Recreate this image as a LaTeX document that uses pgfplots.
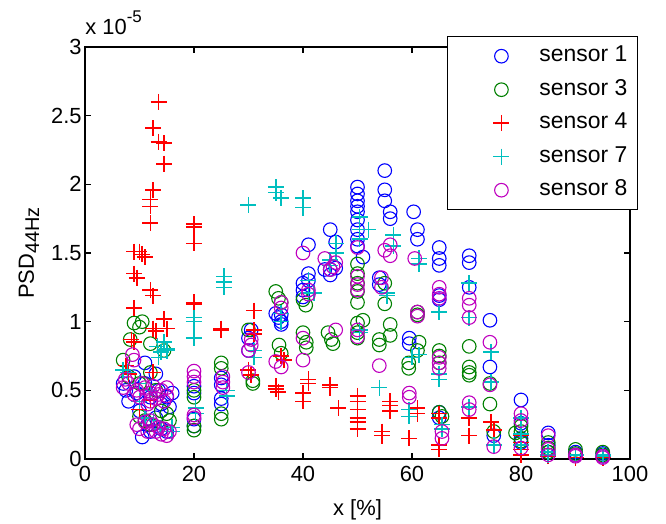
\documentclass[border=0pt]{standalone}
\usepackage{pgfplots}
\pgfplotsset{compat=1.18}
\usepackage{fontspec}
\setmainfont{Liberation Sans}
\definecolor{matlabB}{rgb}{0,0,1}
\definecolor{matlabG}{rgb}{0,0.5,0}
\definecolor{matlabR}{rgb}{1,0,0}
\definecolor{matlabC}{rgb}{0,0.75,0.75}
\definecolor{matlabM}{rgb}{0.75,0,0.75}
\begin{document}
\begin{tikzpicture}
\useasboundingbox (-42.5bp,-32.5bp) rectangle (290.5bp,229.5bp);
\begin{axis}[
  scale only axis, width=272.5bp, height=206bp,
  xmin=0, xmax=100, ymin=0, ymax=3,
  clip=false,
  axis line style={line width=0.9bp},
  xtick={0,20,40,60,80,100},
  ytick={0,0.5,1,1.5,2,2.5,3},
  yticklabels={0,0.5,1,1.5,2,2.5,3},
  tick align=inside, major tick length=3bp,
  tick style={black, line width=0.6bp},
  /pgf/number format/assume math mode=true,
  ticklabel style={font=\fontsize{11}{13}\selectfont},
  yticklabel style={inner xsep=1.5bp},
  xlabel={x [\%]}, xlabel style={font=\fontsize{11}{13}\selectfont, yshift=-2bp},
  ylabel={PSD\raisebox{-0.45ex}{\fontsize{10}{12}\selectfont 44Hz}},
  ylabel style={font=\fontsize{11}{13}\selectfont, yshift=1bp},
  legend style={at={(rel axis cs:1.0147,1.0267)}, anchor=north east,
    draw=black, line width=0.7bp, fill=white,
    font=\fontsize{11.5}{13}\selectfont,
    inner xsep=5bp, inner ysep=4.5bp, row sep=6.25bp, column sep=6bp,
    nodes={inner sep=0pt, text height=8bp, text depth=2.5bp}},
  legend cell align=left,
  legend image code/.code={\path[draw=none,fill=none] (0bp,-1bp) rectangle (35bp,1bp); \draw[#1, only marks] plot coordinates {(22bp,0bp)};},
  every axis plot/.append style={only marks},
]
\addplot[color=matlabB, mark=o, mark size=3.4bp, mark options={line width=0.55bp}] coordinates {
(7,0.55)(7.5,0.5)(8,0.42)(9,0.6)(9.5,0.48)(10,0.35)(10.5,0.16)(11,0.7)(11,0.55)(11.5,0.25)(12,0.45)(12,0.2)(13,0.62)(13,0.3)(13.5,0.5)(14,0.4)(14,0.22)(15,0.45)(15.5,0.38)(15,0.2)(16,0.48)
(20,0.53)(20,0.48)(20,0.29)(20,0.24)
(25,0.59)(25,0.54)(25,0.44)(25,0.4)
(30.5,0.94)(30,0.88)(30,0.79)
(35,1.06)(35.5,1.03)(36,1.05)(36,1.0)(36,0.98)
(40,1.28)(40,1.23)(40,1.18)(41,1.35)(41,1.3)(41,1.56)
(45,1.67)(45,1.38)(45,1.34)(44,1.38)(46,1.58)(46,1.39)
(50,1.98)(50,1.93)(50,1.88)(50,1.84)(50,1.8)(50,1.74)(50,1.67)(50,1.6)(50,1.55)(51,1.47)
(55,2.1)(55,1.96)(55,1.88)(56,1.8)(56,1.75)(54,1.32)(54,1.27)
(60.3,1.8)(61,1.67)(61,1.6)(59.5,0.88)(59.5,0.84)
(65,1.54)(65,1.46)(65,1.41)(65,1.19)(65,1.16)(65,0.34)(65,0.3)
(70.5,1.48)(70.5,1.43)(70.5,1.25)
(74.3,1.01)(74.3,0.67)(75,0.17)
(80,0.43)(80,0.26)(80,0.15)(80,0.12)
(85,0.19)(85,0.1)(85,0.05)
(90,0.05)(90,0.03)
(95,0.04)(95,0.02)
};
\addlegendentry{sensor 1}
\addplot[color=matlabG, mark=o, mark size=3.4bp, mark options={line width=0.55bp}] coordinates {
(7,0.72)(8.3,0.87)(9,0.99)(10.5,1.0)(10,0.96)(12,0.84)(14.5,0.79)(12,0.63)(8,0.6)(10,0.31)(11,0.28)(12,0.25)(14,0.35)(15,0.33)(15.5,0.28)(13,0.5)(10,0.55)
(20,0.5)(20,0.45)(20,0.24)(20,0.21)
(25,0.7)(25,0.66)(25,0.33)(25,0.29)
(30,0.94)(30.8,0.57)(30.8,0.55)
(35,1.22)(35.5,1.17)(36,1.14)(35.6,0.83)(36,0.77)
(40,1.16)(40.5,1.12)(40,0.92)(40.6,0.85)(40.6,0.81)
(44.6,0.92)(45.2,0.87)(45.5,0.84)
(50,1.42)(50,1.35)(50,1.28)(50,1.22)(50,1.14)(50,0.99)(50,0.92)(50,0.88)(51,1.01)
(55,1.28)(55,1.13)(54,0.87)(54,0.83)(56,0.98)(56,0.9)
(59.4,0.7)(59.4,0.66)(61,1.07)(61,1.05)(61.3,0.85)(61,0.79)
(65,0.79)(65,0.75)(65,0.7)(65,0.34)(65.5,0.31)
(70.5,0.82)(70.5,0.67)(70.5,0.63)(70.5,0.61)
(74.3,0.55)(74.3,0.4)(75,0.2)
(79,0.19)(80,0.24)(80,0.2)(80,0.13)
(85,0.12)(85,0.08)(85,0.05)
(90,0.07)(90,0.04)
(95,0.05)(95,0.03)
};
\addlegendentry{sensor 3}
\addplot[color=matlabR, mark=+, mark size=4bp, mark options={line width=0.8bp}] coordinates {
(13.5,2.6)(12.5,2.41)(13.5,2.31)(14.5,2.3)(14.5,2.15)(12.5,1.96)(12,1.89)(12,1.84)(12,1.72)
(20,1.71)(20,1.69)(20,1.57)
(9,1.51)(10,1.51)(10.5,1.49)(11,1.47)(9,1.35)(9.5,1.32)(12,1.23)(12.5,1.19)(9,1.1)
(20,1.14)(20,1.13)(14.5,1.02)(15,0.95)(12.5,0.95)(13,0.93)(8.5,0.87)(9,0.85)
(25,0.95)(25,0.94)(31,1.08)(31,0.94)(31,0.91)(30,0.65)(30.5,0.61)
(7.5,0.68)(8,0.62)(12.5,0.63)(12,0.43)(10,0.36)
(35,0.53)(35,0.51)(35.5,0.49)(36,0.75)(36.5,0.72)
(40,0.48)(40,0.42)(41,0.58)(41,0.55)(45,0.54)(45,0.52)(46.5,0.37)
(50,0.46)(50,0.42)(50,0.36)(50,0.3)(50,0.27)(50,0.22)
(54.5,0.2)(54.5,0.17)(56,0.42)(56,0.39)(56,0.35)
(59.5,0.15)(61,0.37)(61,0.33)
(65,0.33)(65,0.3)(65,0.1)(65,0.07)
(70.5,0.3)(70.5,0.17)(74.5,0.27)(75,0.21)
(80,0.17)(80,0.12)(80,0.07)(80,0.03)
(85,0.05)(85,0.02)(90,0.01)(95,0.01)
};
\addlegendentry{sensor 4}
\addplot[color=matlabC, mark=+, mark size=4bp, mark options={line width=0.8bp}] coordinates {
(7,0.65)(7.8,0.63)(10,0.55)(12,0.5)(13.3,0.82)(14,0.78)(14.5,0.85)(15,0.79)(13.5,0.74)(15,0.8)(12.6,0.28)(14,0.22)(16,0.23)(16,0.2)(11,0.3)(10,0.42)
(20,1.03)(20,1.0)(20,0.88)(20.3,0.37)(20.3,0.33)
(25.5,1.33)(25.5,1.29)(25.5,1.25)(26,0.5)(26,0.46)
(30,1.85)(31,0.79)(31,0.74)
(35,1.98)(35,1.94)(36,1.9)(36,1.06)(36,1.0)
(40,1.9)(40,1.83)(41,1.3)(41,1.21)(42,1.21)
(46,1.57)(46,1.5)(45,1.45)(45,1.41)
(50.4,1.76)(50.4,1.67)(52,1.67)(50.4,1.6)(50.4,0.94)(50.4,0.92)
(56.6,1.63)(56.6,1.55)(55.4,1.21)(55.4,1.19)(54,0.52)
(61.3,1.46)(61.3,1.42)(61.3,0.76)(60,0.74)(59.5,0.36)(59.5,0.31)
(65,1.07)(65,0.62)(65,0.58)(65.5,0.25)(65.5,0.22)
(70.5,1.28)(70.5,1.03)(70.5,0.38)
(74.5,0.78)(74.5,0.56)(75,0.1)
(80,0.3)(80,0.18)(80,0.1)
(85,0.05)(85,0.03)(90,0.03)(95,0.03)(95,0.02)
};
\addlegendentry{sensor 7}
\addplot[color=matlabM, mark=o, mark size=3.4bp, mark options={line width=0.55bp}] coordinates {
(7,0.52)(7.4,0.58)(8,0.55)(8.7,0.76)(9,0.72)(9,0.47)(9.5,0.5)(10,0.45)(10.5,0.55)(11,0.52)(11.5,0.4)(12,0.48)(12,0.42)(12.5,0.53)(13,0.44)(13.5,0.47)(14,0.5)(14.5,0.42)(15,0.52)(15,0.46)
(9.5,0.25)(10,0.22)(11,0.27)(11.5,0.2)(12,0.28)(12.5,0.25)(13,0.2)(13.5,0.23)(14,0.18)(14.5,0.22)(15,0.17)(15.5,0.2)
(20,0.64)(20,0.6)(20,0.56)(20,0.32)(20,0.3)
(25.3,0.6)(25.3,0.56)(25.3,0.52)
(30.5,0.87)(30.5,0.83)(30,0.79)(30,0.63)
(36,1.14)(36,1.1)(35,0.71)(36,0.67)
(40,1.5)(41,1.23)(41,1.2)(40,0.88)(40,0.72)
(44,1.46)(45.5,1.4)(46,1.43)(46,0.94)(45,1.38)
(50,1.54)(50,1.33)(50,1.23)(50,1.27)(50,0.94)(50,0.89)
(55,1.52)(56,1.56)(56,1.48)(54.4,1.32)(54.4,1.25)(54,0.68)
(60.5,1.46)(61,1.07)(61,1.04)(59.5,0.48)(59.5,0.45)
(65,1.25)(65,1.2)(65,1.17)(65,0.74)(65,0.7)(65,0.66)(65.5,0.2)(65.5,0.15)
(70.5,1.17)(70.5,1.12)(70.5,1.03)(70.5,0.41)(70.5,0.36)
(74.3,0.85)(74.3,0.54)(75,0.09)
(80,0.33)(80,0.28)(80,0.08)
(85,0.17)(85,0.07)(85,0.03)
(90,0.03)(90,0.02)
(95,0.01)(95,0.02)
};
\addlegendentry{sensor 8}
\end{axis}
\node[anchor=base west, font=\fontsize{11}{13}\selectfont, inner sep=0pt] at (0bp,212bp) {x 10\raisebox{1.1ex}{\fontsize{8.5}{10}\selectfont -5}};
\end{tikzpicture}
\end{document}
